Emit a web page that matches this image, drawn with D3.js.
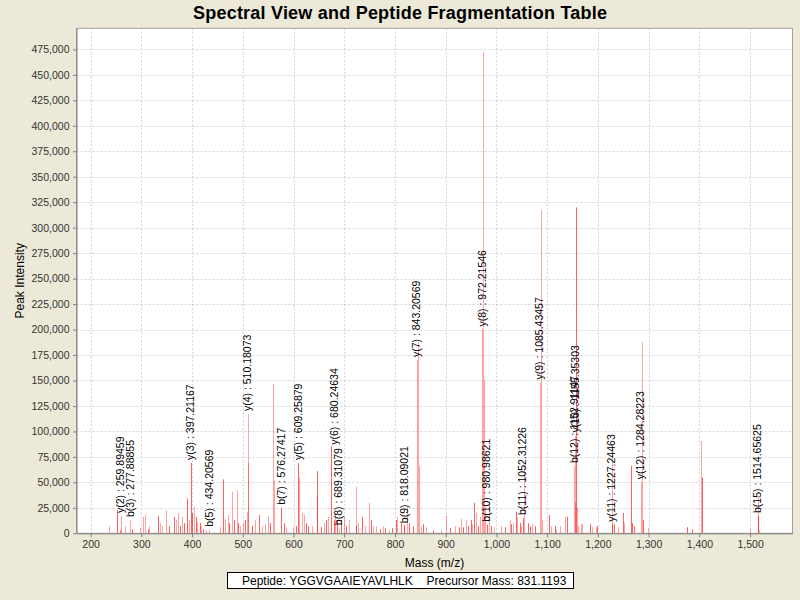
<!DOCTYPE html>
<html><head><meta charset="utf-8">
<script src="https://cdn.jsdelivr.net/npm/d3@7"></script>
<style>body{margin:0;background:#ECE9D8;} text{font-family:"Liberation Sans",Arial,sans-serif;}</style>
</head><body>
<svg id="c" width="800" height="600"></svg>
<script>
// ---- data ----
const peakMz = [235.8,252.8,258.7,259.89,268.6,277.89,281,298,303.5,306.8,314,315.8,333,336,340,349.5,354,364,367.5,372.5,377,381,385,390,393,397.21,400.5,404.6,407,410,416,418,421,427,434.21,455.9,461,465,470.3,472.5,478.2,482.5,488,491,494,500.5,503.6,507.8,510.18,510.6,517.6,524,532.7,537,543.6,549,553.6,560.4,560.9,576.27,581,584.5,599.8,604,609.26,611.5,617.5,620.5,625,629,636,645.9,647,655,660,664,667,674,679,682.5,686,689.31,694,699,703.6,709,722.5,723.5,728,734.5,741,749.6,752.5,757,762,769.6,776,781,788,794.6,801.6,804,812.5,817,818.09,824.5,828,836,843.21,844.4,847.6,852,855,860.6,875,891,900,909,918,926,931,935,940,944,949,952.6,956,959.6,963,967.6,972.22,973.7,975.5,977,980.99,985.5,990,996,1009,1016,1026,1029.5,1032.5,1038,1041,1046,1049,1052.31,1054.5,1063,1066,1070,1076,1085.43,1087,1089,1104,1107,1115,1118,1125,1136,1138.5,1152.91,1154,1155.35,1156.5,1158,1161,1167,1169,1185,1188,1196,1199,1227.24,1228.5,1231,1239,1249,1252,1266,1268,1271,1284.28,1286,1288,1298,1375,1386,1402.8,1406,1500,1514.66,1516,1518];
const peakIntensity = [7200,22900,3000,17000,6500,13000,4000,5500,16000,18000,4000,7000,17000,10000,7000,23000,7000,16000,13000,20000,7000,16000,10000,34000,13000,69000,20000,26000,16000,11000,10000,7000,4000,3000,3500,6000,53000,14000,18000,10000,41000,13000,42500,10000,7000,10000,13000,21000,117000,69000,7000,13000,18000,7000,9000,17000,10000,146500,52000,25000,10000,6000,6000,7000,69000,55000,20000,18000,10000,7000,7000,61000,36000,6000,10000,13000,16000,85500,13000,20000,13000,5000,13000,16000,7000,13000,46000,7000,10000,16000,7000,30000,13000,7000,7000,4000,7000,5000,3000,5000,13000,16000,10000,7000,8000,26000,10000,7000,170000,188000,66000,7000,9000,6000,3000,3000,17000,5000,7000,6000,14000,6000,13000,7000,13000,9000,30000,20000,7000,16000,200000,472000,150000,26000,8500,30000,7000,6000,7000,6000,13000,9000,10000,21000,16000,10000,7000,15000,67000,10000,7000,9000,7000,148000,317000,13000,18000,7000,7000,4000,7000,16000,16000,66000,30000,96000,320000,25000,7000,9000,9000,9000,6000,6000,7000,8500,87000,9000,6000,20000,10000,66000,10000,7000,50000,188000,13000,5000,6000,4000,90600,54600,4500,17000,37000,3000];
// 1 = stronger red peak, 0 = lighter peak
const peakShade = [0,1,1,0,0,0,1,0,0,0,1,0,1,0,0,0,1,1,0,0,1,0,1,1,0,1,1,0,1,0,1,0,1,0,0,0,1,0,0,1,0,1,0,1,0,0,1,0,0,0,1,0,1,0,0,0,1,0,0,1,1,0,0,1,1,0,0,0,1,1,0,1,0,1,0,1,0,1,1,0,1,0,1,0,1,0,0,1,0,1,0,0,1,0,0,1,0,1,0,1,1,0,1,0,1,0,1,1,0,0,0,0,1,0,1,0,0,1,0,1,0,1,0,1,1,0,1,0,1,0,0,0,0,0,1,0,1,0,0,1,0,1,0,1,0,1,0,1,0,1,1,0,1,0,0,0,1,0,1,0,0,0,1,0,0,0,1,0,0,0,0,1,0,0,1,1,0,1,0,1,0,1,1,1,0,0,1,0,1,1,0,1,0,1,0];
const ionLabels = ["y(2) : 259.89459","b(3) : 277.88855","y(3) : 397.21167","b(5) : 434.20569","y(4) : 510.18073","b(7) : 576.27417","y(5) : 609.25879","y(6) : 680.24634","b(8) : 689.31079","b(9) : 818.09021","y(7) : 843.20569","y(8) : 972.21546","b(10) : 980.98621","b(11) : 1052.31226","y(9) : 1085.43457","b(12) : 1152.91147","y(10) : 1155.35303","y(11) : 1227.24463","y(12) : 1284.28223","b(15) : 1514.65625"];
const ionMz = [259.89,277.89,397.21,434.21,510.18,576.27,609.26,680.25,689.31,818.09,843.21,972.22,980.99,1052.31,1085.43,1152.91,1155.35,1227.24,1284.28,1514.66];
const ionIntensity = [17000,13000,69000,3500,117000,25000,69000,84000,5000,7000,170000,200000,8500,15000,148000,66000,96000,8500,50000,17000];
const xTicks = [200,300,400,500,600,700,800,900,1000,1100,1200,1300,1400,1500];
const yTicks = [0,25000,50000,75000,100000,125000,150000,175000,200000,225000,250000,275000,300000,325000,350000,375000,400000,425000,450000,475000];
const titleText = "Spectral View and Peptide Fragmentation Table";
const xLabel = "Mass (m/z)", yLabel = "Peak Intensity";
const legendPeptide = "Peptide: YGGVGAAIEYAVLHLK", legendMass = "Precursor Mass: 831.1193";

// ---- layout ----
const L = 76.5, R = 792.5, T = 28.3, B = 533.3;
const svg = d3.select("#c");
svg.append("rect").attr("width",800).attr("height",600).attr("fill","#ECE9D8");
const x = d3.scaleLinear().domain([172.2,1583.6]).range([L,R]);
const y = d3.scaleLinear().domain([0,495700]).range([B,T]);

svg.append("rect").attr("x",L).attr("y",T).attr("width",R-L).attr("height",B-T).attr("fill","#fff");

// grid
const g = svg.append("g");
g.selectAll("line.vx").data(xTicks).join("line")
  .attr("x1",d=>Math.round(x(d))+0.5).attr("x2",d=>Math.round(x(d))+0.5).attr("y1",T).attr("y2",B)
  .attr("stroke","#d4d4d4").attr("stroke-dasharray","2,2");
g.selectAll("line.hy").data(yTicks.filter(d=>d>0)).join("line")
  .attr("y1",d=>Math.round(y(d))+0.5).attr("y2",d=>Math.round(y(d))+0.5).attr("x1",L).attr("x2",R)
  .attr("stroke","#d4d4d4").attr("stroke-dasharray","2,2");

// peaks
const peaks = peakMz.map((m,i)=>({m, v:peakIntensity[i], s:peakShade[i]}));
svg.append("g").selectAll("rect").data(peaks).join("rect")
  .attr("x",d=>Math.round(x(d.m))).attr("width",1)
  .attr("y",d=>y(d.v)).attr("height",d=>B-y(d.v))
  .attr("fill","#ff0000").attr("fill-opacity",d=>d.s?0.62:0.36);

// ion labels
svg.append("g").selectAll("text").data(ionLabels.map((t,i)=>({t,m:ionMz[i],v:ionIntensity[i]}))).join("text")
  .attr("transform",d=>`translate(${x(d.m)-0.5},${y(d.v)-3}) rotate(-90)`)
  .attr("dominant-baseline","central")
  .attr("font-size","10.5px").attr("fill","#000").text(d=>d.t);

// outline
svg.append("rect").attr("x",L).attr("y",T).attr("width",R-L).attr("height",B-T)
  .attr("fill","none").attr("stroke","#a0a0a0");

// axes
const ax = svg.append("g").attr("transform",`translate(0,${B})`)
  .call(d3.axisBottom(x).tickValues(xTicks).tickFormat(d3.format(",")).tickSize(4).tickSizeOuter(0).tickPadding(3.5));
const ay = svg.append("g").attr("transform",`translate(${L},0)`)
  .call(d3.axisLeft(y).tickValues(yTicks).tickFormat(d3.format(",")).tickSize(3.5).tickSizeOuter(0).tickPadding(3.5));
[ax,ay].forEach(a=>{
  a.select(".domain").attr("stroke","#808080");
  a.selectAll(".tick line").attr("stroke","#808080");
  a.selectAll(".tick text").attr("font-size","10.5px").attr("fill","#333").attr("font-family","'Liberation Sans',Arial,sans-serif");
});

// titles
svg.append("text").attr("x",400).attr("y",19).attr("text-anchor","middle")
  .attr("font-size","18px").attr("font-weight","bold").attr("fill","#000")
  .attr("textLength",414).attr("lengthAdjust","spacing").text(titleText);
svg.append("text").attr("x",(L+R)/2).attr("y",567).attr("text-anchor","middle")
  .attr("font-size","12px").attr("fill","#000").text(xLabel);
svg.append("text").attr("transform",`translate(24,${(T+B)/2}) rotate(-90)`).attr("text-anchor","middle")
  .attr("font-size","12px").attr("fill","#000").text(yLabel);

// legend
svg.append("rect").attr("x",227.5).attr("y",572.5).attr("width",346).attr("height",16)
  .attr("fill","#fff").attr("stroke","#000");
svg.append("text").attr("x",242).attr("y",585).attr("font-size","12px").attr("fill","#000").text(legendPeptide);
svg.append("text").attr("x",426.5).attr("y",585).attr("font-size","12px").attr("fill","#000").text(legendMass);
</script>
</body></html>
